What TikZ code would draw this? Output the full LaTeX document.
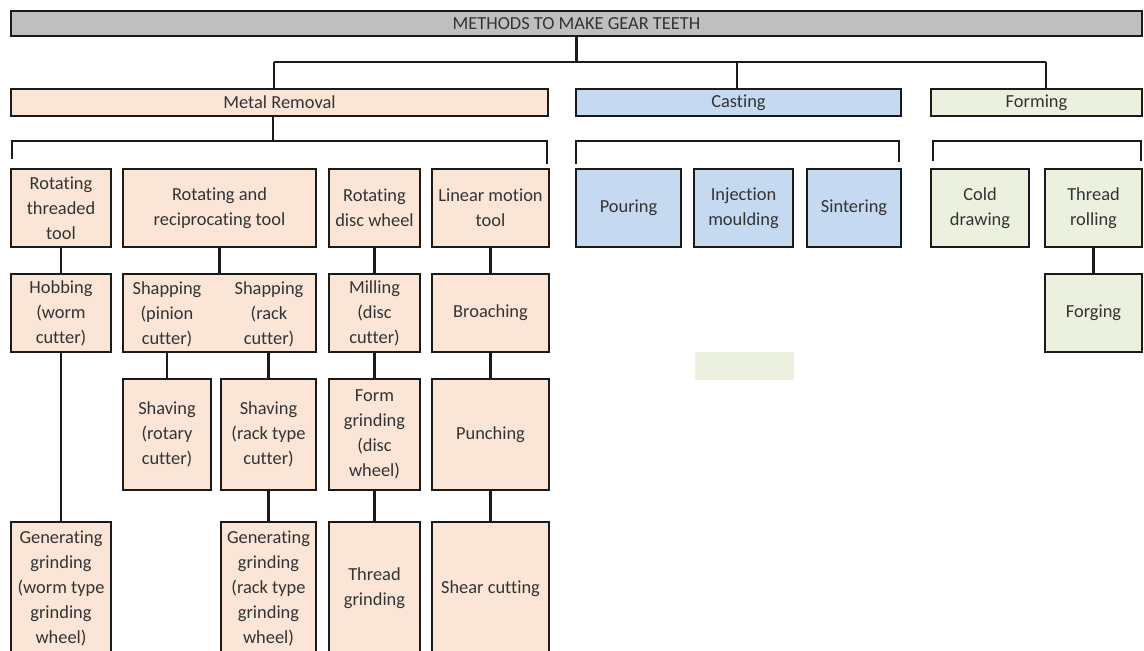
\documentclass[tikz,border=0pt]{standalone}
\usepackage{fontspec}
\setmainfont[Ligatures={NoCommon}]{Carlito}
\definecolor{peach}{HTML}{FBE5D6}
\definecolor{skyblue}{HTML}{C5D9F1}
\definecolor{sage}{HTML}{EBF1DE}
\definecolor{bargray}{HTML}{BFBFBF}
\definecolor{boxline}{HTML}{1A1A1A}
\definecolor{txt}{HTML}{333333}
\tikzset{
  labeltext/.style={text=txt, align=center, inner sep=0pt, font=\fontsize{18.4}{25}\selectfont},
  box/.style={labeltext, draw=boxline, line width=2.5pt, outer sep=0pt},
  link/.style={draw=boxline, line width=2.1pt},
}
% \gearbox{name}{x1}{y1}{x2}{y2}{fill}{text}: box given by its corners in pixels
\newcommand\gearbox[7]{%
  \node[box, fill=#6, minimum width={(#4-#2)*1pt}, minimum height={(#5-#3)*1pt}]
    (#1) at ({(#2+#4)/2},{(#3+#5)/2}) {#7};}
\begin{document}
\begin{tikzpicture}[x=1pt,y=-1pt]
\useasboundingbox (0,0) rectangle (1144,651);
\clip (0,0) rectangle (1144,651);
\fill[white] (0,0) rectangle (1144,651);

% top level
\gearbox{title}{11}{11}{1142}{36}{bargray}{METHODS TO MAKE GEAR TEETH}
\gearbox{mr}{11}{89}{548}{116}{peach}{Metal Removal}
\gearbox{cast}{576}{89}{901}{116}{skyblue}{Casting}
\gearbox{form}{931}{89}{1142}{116}{sage}{Forming}

% metal removal: tool families
\gearbox{rtt}{11}{169}{111}{247}{peach}{Rotating\\threaded\\tool}
\gearbox{rrt}{123}{169}{316}{247}{peach}{Rotating and\\reciprocating tool}
\gearbox{rdw}{329}{169}{420}{247}{peach}{Rotating\\disc wheel}
\gearbox{lmt}{432}{169}{549}{247}{peach}{Linear motion\\tool}

% casting
\gearbox{pour}{576}{169}{681}{247}{skyblue}{Pouring}
\gearbox{inj}{694}{169}{793}{247}{skyblue}{Injection\\moulding}
\gearbox{sint}{807}{169}{901}{247}{skyblue}{Sintering}

% forming
\gearbox{cold}{931}{169}{1029}{247}{sage}{Cold\\drawing}
\gearbox{thr}{1045}{169}{1142}{247}{sage}{Thread\\rolling}
\gearbox{forg}{1045}{274}{1142}{352}{sage}{Forging}

% metal removal: processes
\gearbox{hob}{11}{274}{111}{352}{peach}{Hobbing\\(worm\\cutter)}
\gearbox{shap}{123}{274}{316}{352}{peach}{}
\node[labeltext] (shapL) at (167,314) {Shapping\\(pinion\\cutter)};
\node[labeltext] (shapR) at (269,314) {Shapping\\(rack\\cutter)};
\gearbox{mill}{329}{274}{420}{352}{peach}{Milling\\(disc\\cutter)}
\gearbox{broach}{432}{274}{549}{352}{peach}{Broaching}

\gearbox{shav1}{123}{379}{211}{490}{peach}{Shaving\\(rotary\\cutter)}
\gearbox{shav2}{221}{379}{316}{490}{peach}{Shaving\\(rack type\\cutter)}
\gearbox{formg}{329}{379}{420}{490}{peach}{Form\\grinding\\(disc\\wheel)}
\gearbox{punch}{432}{379}{549}{490}{peach}{Punching}

\gearbox{gen1}{11}{522}{111}{655}{peach}{Generating\\grinding\\(worm type\\grinding\\wheel)}
\gearbox{gen2}{221}{522}{316}{655}{peach}{Generating\\grinding\\(rack type\\grinding\\wheel)}
\gearbox{thrg}{329}{522}{420}{655}{peach}{Thread\\grinding}
\gearbox{shear}{432}{522}{549}{655}{peach}{Shear cutting}

% loose filled patch
\fill[sage] (695,352) rectangle (794,380);

% branch from the title
\coordinate (mrj) at (274,62);
\coordinate (castj) at (737,62);
\coordinate (formj) at (1046,62);
\draw[link] (title.south) -- (title.south |- mrj);
\draw[link] (mrj) -- (formj);
\draw[link] (mrj) -- (mrj |- mr.north);
\draw[link] (castj) -- (castj |- cast.north);
\draw[link] (formj) -- (formj |- form.north);

% brackets under the three groups
\coordinate (mrstem) at (273,141);
\coordinate (mrbl) at (12,159);
\coordinate (mrbr) at (547,164);
\draw[link] (mr.south -| mrstem) -- (mrstem);
\draw[link] (mrbl) -- (mrbl |- mrstem) -- (mrbr |- mrstem) -- (mrbr);

\coordinate (cabl) at (576,164);
\coordinate (cabr) at (899,162);
\draw[link] (cabl) -- (cabl |- mrstem) -- (cabr |- mrstem) -- (cabr);

\coordinate (fobl) at (933,161);
\coordinate (fobr) at (1141,161);
\draw[link] (fobl) -- (fobl |- mrstem) -- (fobr |- mrstem) -- (fobr);

% tool families to processes
\draw[link] (rtt.south) -- (hob.north);
\draw[link] (rrt.south) -- (rrt.south |- shap.north);
\draw[link] (rdw.south) -- (mill.north);
\draw[link] (lmt.south) -- (broach.north);
\draw[link] (shap.south -| shav1.north) -- (shav1.north);
\draw[link] (shap.south -| shav2.north) -- (shav2.north);
\draw[link] (mill.south) -- (formg.north);
\draw[link] (broach.south) -- (punch.north);
\draw[link] (hob.south) -- (gen1.north);
\draw[link] (shav2.south) -- (gen2.north);
\draw[link] (formg.south) -- (thrg.north);
\draw[link] (punch.south) -- (shear.north);
\draw[link] (thr.south) -- (forg.north);
\end{tikzpicture}
\end{document}
